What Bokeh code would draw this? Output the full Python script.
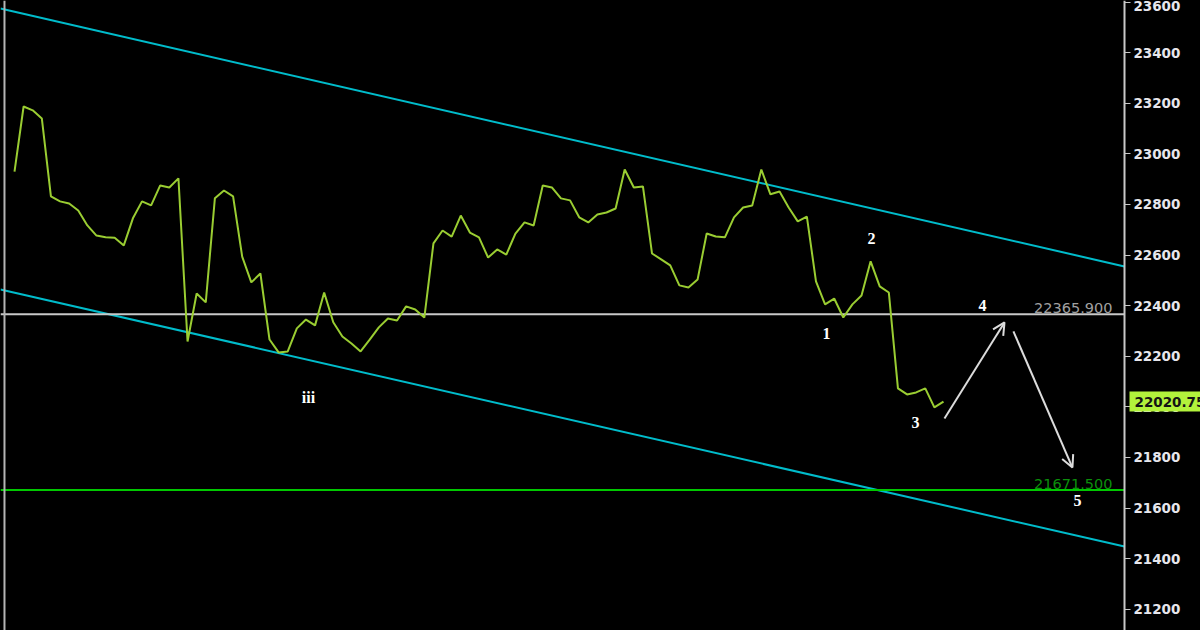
from bokeh.plotting import figure
from bokeh.models import Range1d, FixedTicker, Span, Label, Arrow, OpenHead
from bokeh.embed import file_html
from bokeh.resources import INLINE
from bokeh.core.properties import value

# ---- data ----
prices = [22930, 23187, 23172, 23140, 22832, 22812, 22804, 22776, 22717, 22677,
          22670, 22668, 22638, 22745, 22812, 22796, 22875, 22867, 22903, 22258,
          22448, 22413, 22824, 22855, 22832, 22594, 22492, 22527, 22266, 22215,
          22219, 22310, 22345, 22322, 22452, 22334, 22278, 22250, 22219, 22266,
          22314, 22349, 22341, 22397, 22385, 22353, 22646, 22697, 22673, 22756,
          22689, 22670, 22590, 22622, 22602, 22685, 22729, 22717, 22875, 22867,
          22824, 22816, 22749, 22729, 22760, 22768, 22784, 22938, 22867, 22871,
          22606, 22583, 22559, 22480, 22472, 22503, 22685, 22673, 22670, 22749,
          22788, 22796, 22938, 22840, 22851, 22788, 22733, 22752, 22496, 22405,
          22428, 22353, 22405, 22440, 22575, 22476, 22452, 22073, 22049, 22057,
          22073, 21998, 22020.75]
bar_index = list(range(len(prices)))

y_ticks = [21200, 21400, 21600, 21800, 22000, 22200, 22400,
           22600, 22800, 23000, 23200, 23400, 23600]

axis_x = 121.87          # where the price scale sits
left_x = -1.54

upper_channel_x = [left_x, axis_x]
upper_channel_y = [23574, 22555]
lower_channel_x = [left_x, axis_x]
lower_channel_y = [22464, 21448]

resistance_level = 22365.9
resistance_text = "22365.900"
target_level = 21671.5
target_text = "21671.500"
last_price = 22020.75
last_price_text = "22020.75"

wave_labels = ["iii", "1", "2", "3", "4", "5"]
wave_x = [32.28, 89.15, 94.09, 98.92, 106.28, 116.71]
wave_y = [22037, 22290, 22666, 21938, 22401, 21630]

arrow_x_start = [102.11, 109.68]
arrow_y_start = [21954, 22298]
arrow_x_end = [108.70, 116.16]
arrow_y_end = [22333.5, 21760]

# ---- figure ----
p = figure(width=1200, height=630, output_backend="svg", toolbar_location=None,
           x_range=Range1d(-1.537, 130.22), y_range=Range1d(21116, 23606),
           x_axis_location=None, y_axis_location="right",
           min_border_left=0, min_border_top=0, min_border_bottom=0, min_border_right=0,
           background_fill_color="black", border_fill_color="black",
           outline_line_color=None)
p.grid.visible = False

yax = p.yaxis[0]
yax.fixed_location = axis_x
yax.ticker = FixedTicker(ticks=y_ticks)
yax.minor_tick_line_color = None
yax.major_tick_in = 0
yax.major_tick_out = 6
yax.major_tick_line_color = "#c8c8c8"
yax.axis_line_color = "#c8c8c8"
yax.axis_line_width = 2
yax.major_label_standoff = 3
yax.major_label_text_font = "DejaVu Sans"
yax.major_label_text_font_style = "bold"
yax.major_label_text_font_size = "13.5px"
yax.major_label_text_color = "#e6e6ec"

# left frame border
p.add_layout(Span(location=-1.1, dimension="height", line_color="#b4b4b4", line_width=2))

# channel lines
p.line(upper_channel_x, upper_channel_y, line_color="#00BCCB", line_width=2)
p.line(lower_channel_x, lower_channel_y, line_color="#00BCCB", line_width=2)

# horizontal levels (up to the price scale)
p.line([left_x, axis_x], [resistance_level, resistance_level], line_color="#c8c8c8", line_width=2)
p.line([left_x, axis_x], [target_level, target_level], line_color="#00c800", line_width=2)

# price series
p.line(bar_index, prices, line_color="#9ACD32", line_width=2)

# level labels
p.add_layout(Label(x=120.55, y=22390, text=resistance_text, text_align="right",
                   text_baseline="alphabetic", text_font="DejaVu Sans",
                   text_font_size="14.5px", text_color="#a0a0a0"))
p.add_layout(Label(x=120.55, y=21696, text=target_text, text_align="right",
                   text_baseline="alphabetic", text_font="DejaVu Sans",
                   text_font_size="14.5px", text_color="#0c8f0c"))

# wave labels
p.text(x=wave_x, y=wave_y, text=wave_labels, text_font=value("Liberation Serif"),
       text_font_size="16px", text_font_style="bold", text_color="white",
       text_align="center", text_baseline="middle")

# arrows
for xs, ys, xe, ye in zip(arrow_x_start, arrow_y_start, arrow_x_end, arrow_y_end):
    p.add_layout(Arrow(end=OpenHead(size=12, line_color="#dcdcdc", line_width=2),
                       x_start=xs, y_start=ys, x_end=xe, y_end=ye,
                       line_color="#dcdcdc", line_width=2))

# last price tag on the axis
p.add_layout(Label(x=1129, x_units="screen", y=last_price, text=last_price_text,
                   text_baseline="middle", text_align="left", text_font="DejaVu Sans",
                   text_font_size="13.5px", text_font_style="bold", text_color="#141414",
                   background_fill_color="#b2f23c", background_fill_alpha=1.0,
                   padding=5, level="overlay"))

html = file_html(p, INLINE, title="chart")
html = html.replace("<head>", "<head><style>html,body{margin:0;padding:0;background:#000;overflow:hidden}</style>", 1)
open("out.html", "w").write(html)
